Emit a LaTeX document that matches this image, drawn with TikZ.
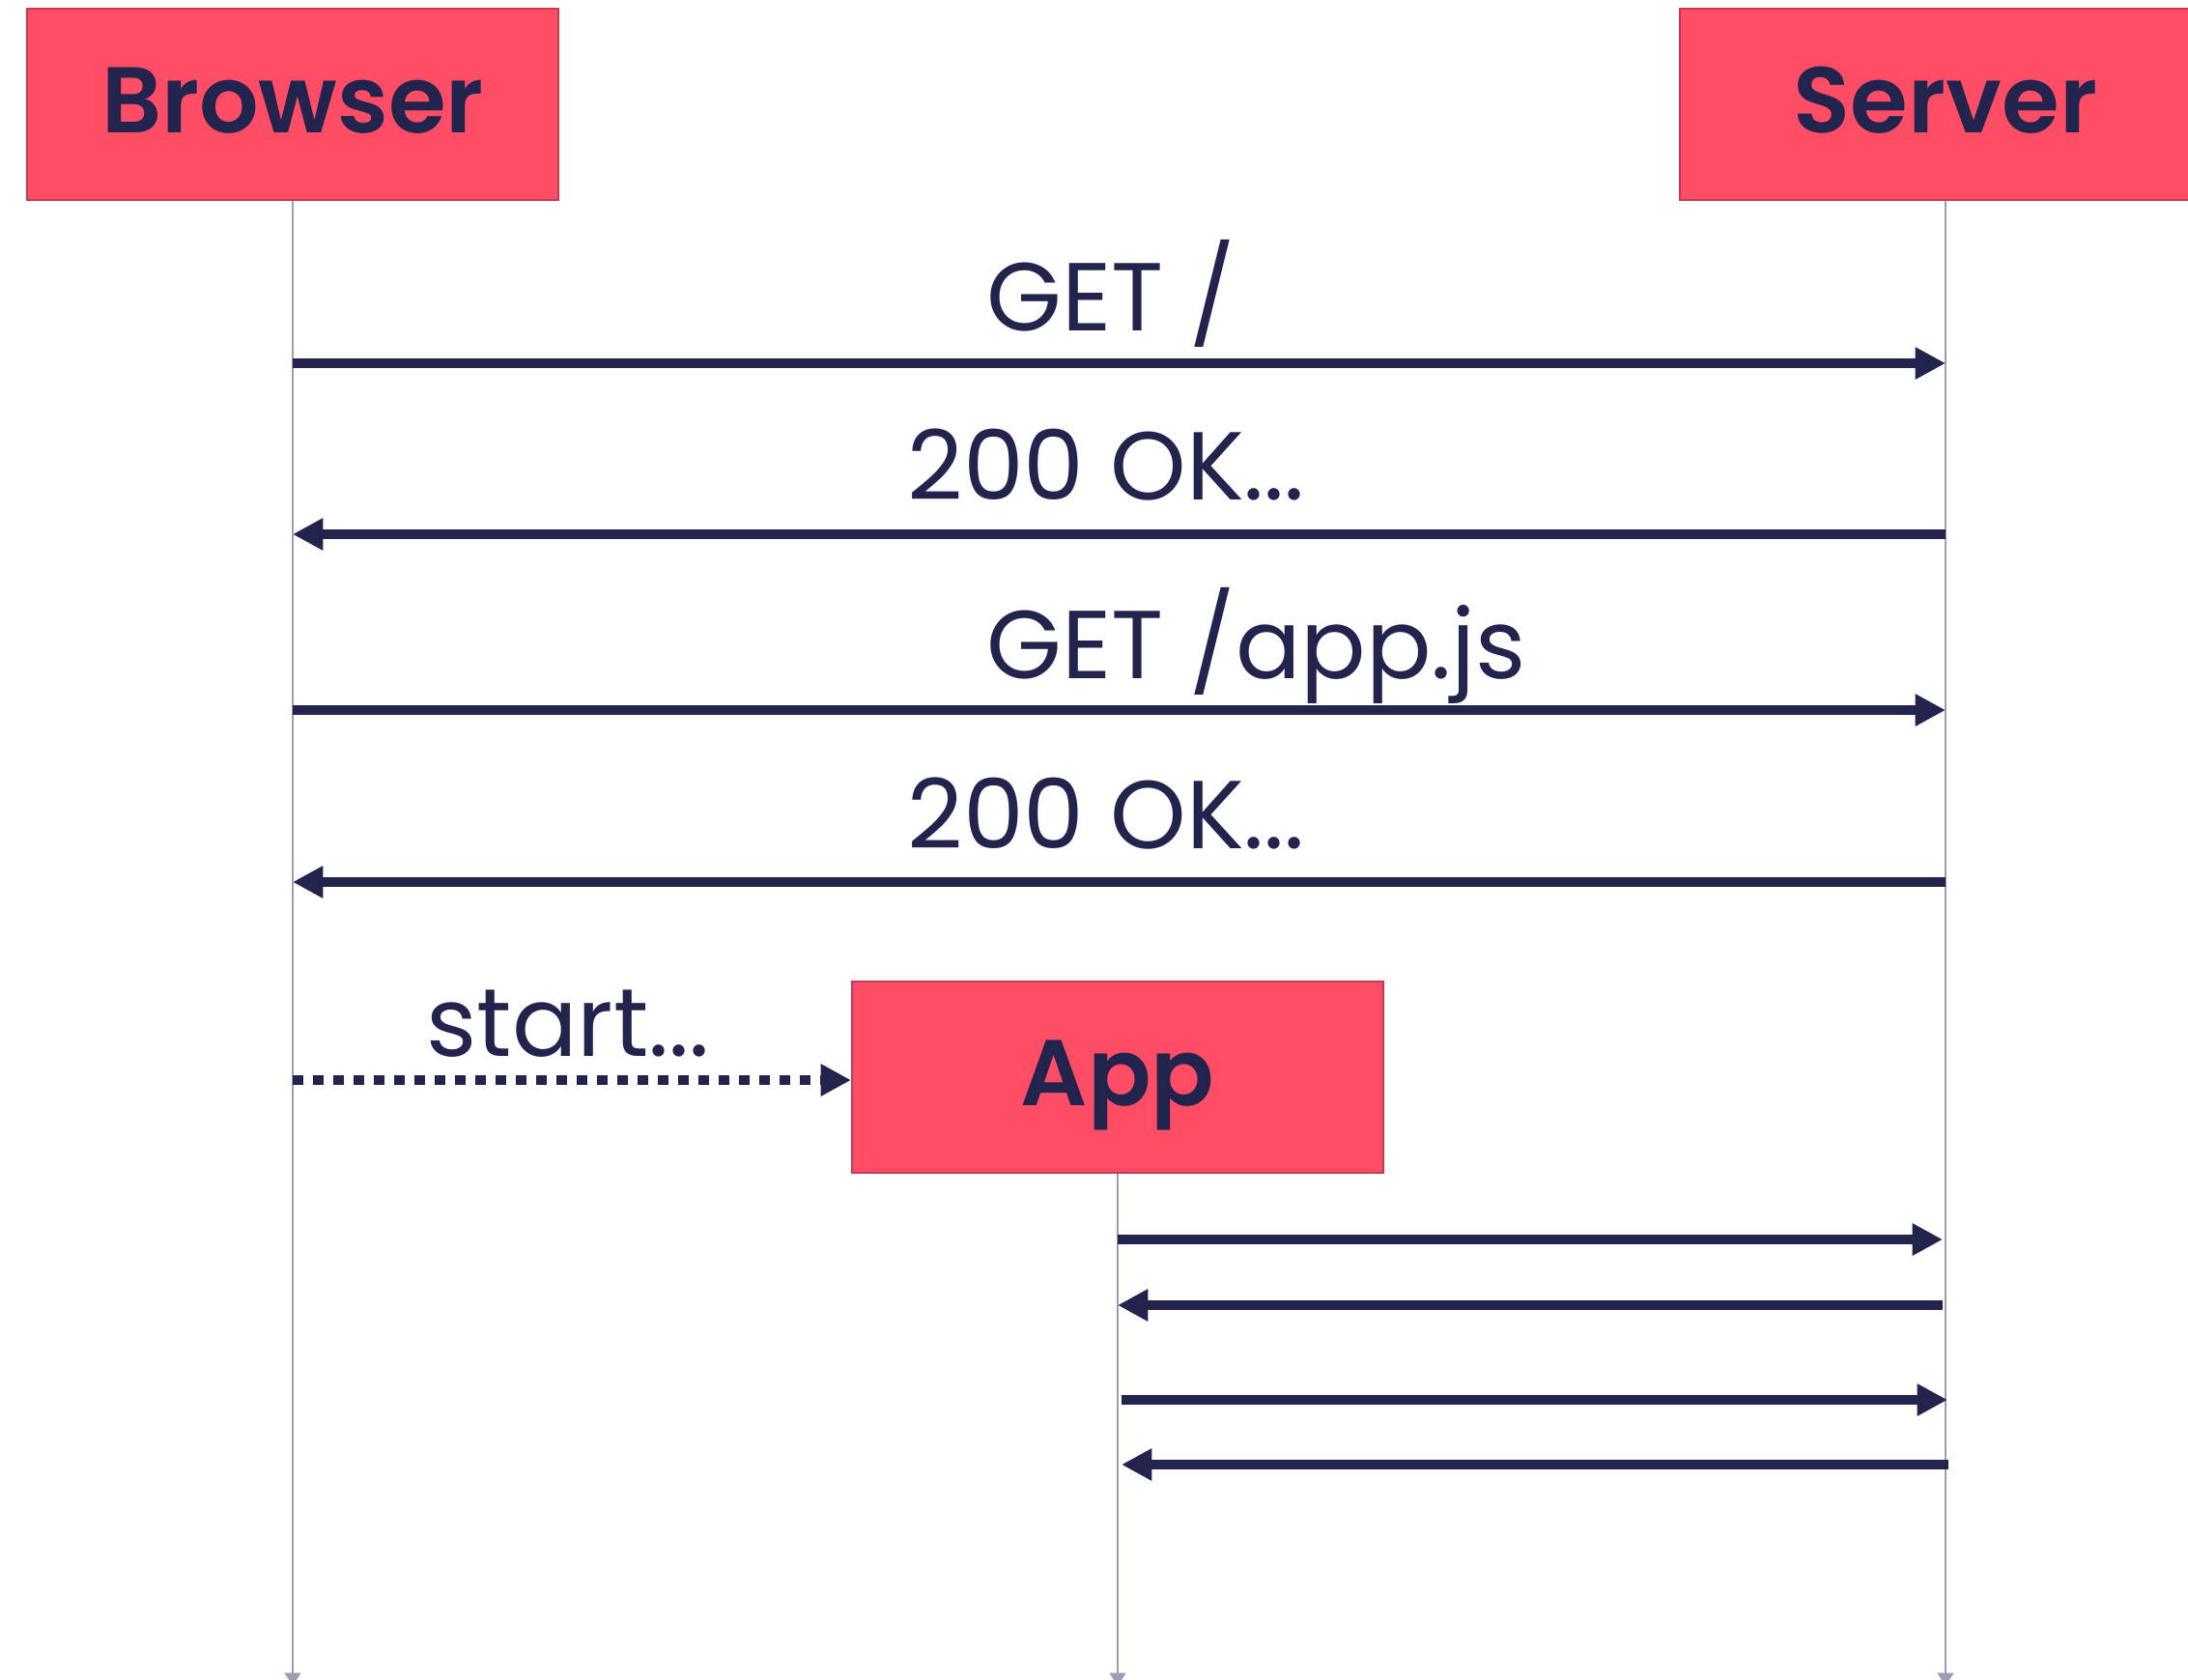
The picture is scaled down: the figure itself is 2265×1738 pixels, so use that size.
\documentclass[tikz,border=0pt]{standalone}
\usepackage{fontspec}
\setmainfont{Poppins}
\newfontfamily\titlefont{Poppins SemiBold}
\usetikzlibrary{arrows.meta}
\definecolor{boxfill}{HTML}{FF4D66}
\definecolor{boxline}{HTML}{C43B52}
\definecolor{ink}{HTML}{23244D}
\definecolor{lifegray}{HTML}{9D9DB3}
\begin{document}
\begin{tikzpicture}[x=0.3pt,y=-0.3pt,
  actor/.style={draw=boxline, line width=0.6pt, fill=boxfill,
    minimum width=165pt, minimum height=59.4pt, inner sep=0pt,
    font=\titlefont\fontsize{29}{29}\selectfont, text=ink},
  actorname/.style={text=ink, font=\titlefont\fontsize{29}{29}\selectfont,
    inner sep=0pt, text height=20.3pt, text depth=0pt, yshift=1.2pt},
  lifeline/.style={draw=lifegray, line width=0.75pt,
    -{Triangle[length=4pt,width=5pt]}},
  msg/.style={draw=ink, line width=3pt,
    -{Triangle[length=9.4pt,width=9.4pt]}},
  async/.style={msg, dash pattern=on 3.4pt off 2.9pt},
  lbl/.style={text=ink, font=\fontsize{30}{30}\selectfont,
    anchor=base west, inner sep=0pt}
]
\useasboundingbox (0,0) rectangle (2265,1738);

% participants
\node[actor] (browser) at (303,108) {};
\node[actorname] (browserName) at (browser.center) {Browser};
\node[actor] (server) at (2014,108) {};
\node[actorname] (serverName) at (server.center) {Server};

% lifelines
\coordinate (browserEnd) at (303,1745);
\coordinate (serverEnd) at (2014,1745);
\coordinate (appEnd) at (1157,1745);
\draw[lifeline] (browser.south) -- (browserEnd);
\draw[lifeline] (server.south) -- (serverEnd);

% the app box sits on top of its own lifeline
\node[actor] (app) at (1157,1115) {};
\node[actorname] (appName) at (app.center) {App};
\draw[lifeline] (app.south) -- (appEnd);

% message end points on the lifelines
\coordinate (b1) at (303,376);   \coordinate (s1) at (2014,376);
\coordinate (b2) at (303,553);   \coordinate (s2) at (2014,553);
\coordinate (b3) at (303,735);   \coordinate (s3) at (2014,735);
\coordinate (b4) at (303,913);   \coordinate (s4) at (2014,913);
\coordinate (b5) at (303,1118);
\coordinate (a6) at (1157,1283); \coordinate (s6) at (2011,1283);
\coordinate (a7) at (1157,1351); \coordinate (s7) at (2011,1351);
\coordinate (a8) at (1161,1449); \coordinate (s8) at (2016,1449);
\coordinate (a9) at (1161,1516); \coordinate (s9) at (2017,1516);

% page load
\draw[msg] (b1) -- (s1);
\node[lbl] (getroot) at (1021,342) {GET /};
\draw[msg] (s2) -- (b2);
\node[lbl] (ok1) at (939,517) {200 OK...};
\draw[msg] (b3) -- (s3);
\node[lbl] (getjs) at (1021,702) {GET /app.js};
\draw[msg] (s4) -- (b4);
\node[lbl] (ok2) at (939,878) {200 OK...};

% the script starts the app
\draw[async] (b5) -- (b5 -| app.west);
\node[lbl] (start) at (441,1093) {start...};

% app talking to the server
\draw[msg] (a6) -- (s6);
\draw[msg] (s7) -- (a7);
\draw[msg] (a8) -- (s8);
\draw[msg] (s9) -- (a9);
\end{tikzpicture}
\end{document}
